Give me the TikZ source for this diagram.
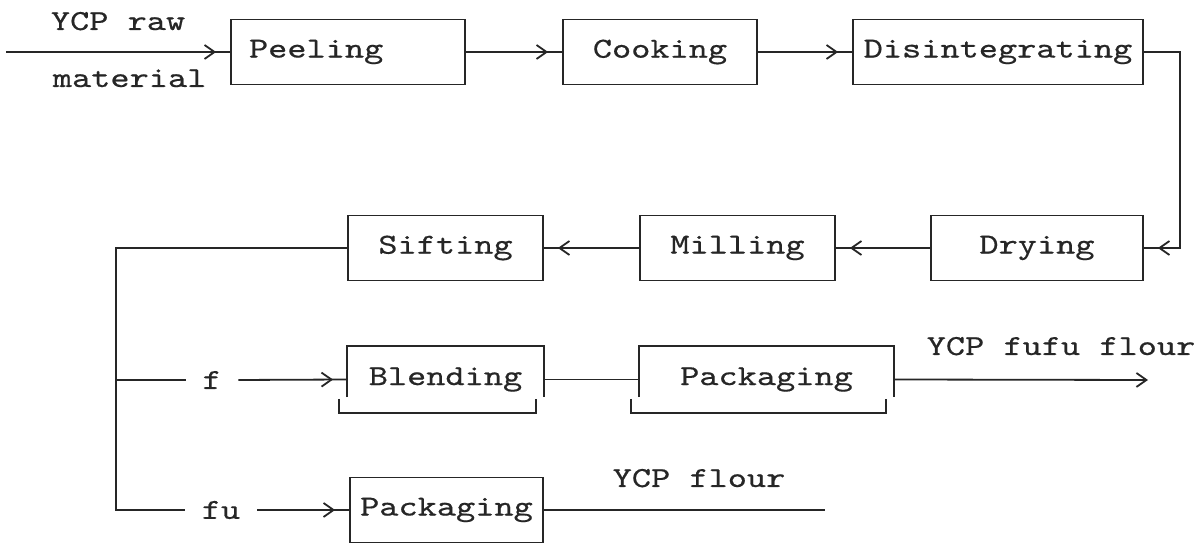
\documentclass[tikz,border=0pt]{standalone}
\usepackage{fontspec}
\newfontfamily\typewriter[FakeStretch=1.26, FakeBold=0.5]{lmmono10-regular.otf}
\usetikzlibrary{arrows.meta,decorations.markings}
\definecolor{ink}{HTML}{262626}

\begin{document}
\begin{tikzpicture}
[ x=0.5pt, y=-0.5pt
, every node/.style={font=\typewriter\fontsize{14.5pt}{16pt}\selectfont, text=ink}
, color=ink, line width=0.9pt
, >={Straight Barb[length=5pt, width=7pt]}
, box/.style={draw, minimum height=32.5pt, inner sep=0pt}
, openbox/.style={minimum height=32.5pt, inner sep=0pt}
, word/.style={inner xsep=8pt, inner ysep=0pt}
, note/.style={inner sep=0pt}
, feed/.style={postaction={decorate}, decoration={markings, mark=at position -7pt with {\arrow{>}}}}
]

\path[use as bounding box, fill=white] (0,0) rectangle (1201,544);

% top row
\node[note, anchor=base west] (rawtop) at (50,30) {YCP raw};
\node[note, anchor=base west] (rawbot) at (52,87) {material};
\coordinate (rawin) at (6,52);

\node[box, minimum width=117pt, text width=99pt, inner xsep=9pt, align=left] (peel) at (348,52) {Peeling};
\node[box, minimum width=97pt]  (cook)   at (660,52)  {Cooking};
\node[box, minimum width=145pt] (disint) at (998,52)  {Disintegrating};
\coordinate (rturn) at (1180,150);

% middle row
\node[box, minimum width=106pt]  (dry)  at (1037,248)  {Drying};
\node[box, minimum width=97.5pt] (mill) at (737.5,248) {Milling};
\node[box, minimum width=97.5pt] (sift) at (445.5,248) {Sifting};

% split into f / fu
\coordinate (fork)  at (116,380);
\coordinate (trunk) at (116,510);
\node[word] (flab)  at (212,380) {f};
\node[word] (fulab) at (221,510) {fu};

\node[openbox, minimum width=97.5pt]  (blend) at (445.5,379.5) {Blending};
\node[openbox, minimum width=126.5pt] (packa) at (766.5,379.5) {Packaging};
\node[box, minimum width=96.5pt]      (packb) at (446.5,510)   {Packaging};

\node[note, anchor=base] (fufu)  at (1061,355) {YCP fufu flour};
\node[note, anchor=base] (flour) at (699,487)  {YCP flour};
\coordinate (fufuend)  at (1148,380);
\coordinate (flourend) at (825,510);

% typed open boxes
\foreach \b in {blend,packa}
  \draw ([yshift=-25.5pt]\b.north west) |- (\b.north east) -- ([yshift=-25.5pt]\b.north east)
        ([xshift=-4pt,yshift=7pt]\b.south west) |- ([xshift=-4pt]\b.south east) -- ++(0pt,7pt);

\draw[feed] (rawin) -- (peel);
\draw[feed] (peel) -- (cook);
\draw[feed] (cook) -- (disint);
\draw[feed] (disint.east) -| (rturn) |- (dry.east);
\draw[feed] (dry) -- (mill);
\draw[feed] (mill) -- (sift);
\draw (sift.west) -| (trunk) -- (fulab.west);
\draw (fork) -- (flab.west);
\draw[feed] (flab.east) -- (blend.west);
\draw (blend.east) -- (packa.west);
\draw[->] (packa.east) -- (fufuend);
\draw[feed] (fulab.east) -- (packb.west);
\draw (packb.east) -- (flourend);

\end{tikzpicture}
\end{document}
